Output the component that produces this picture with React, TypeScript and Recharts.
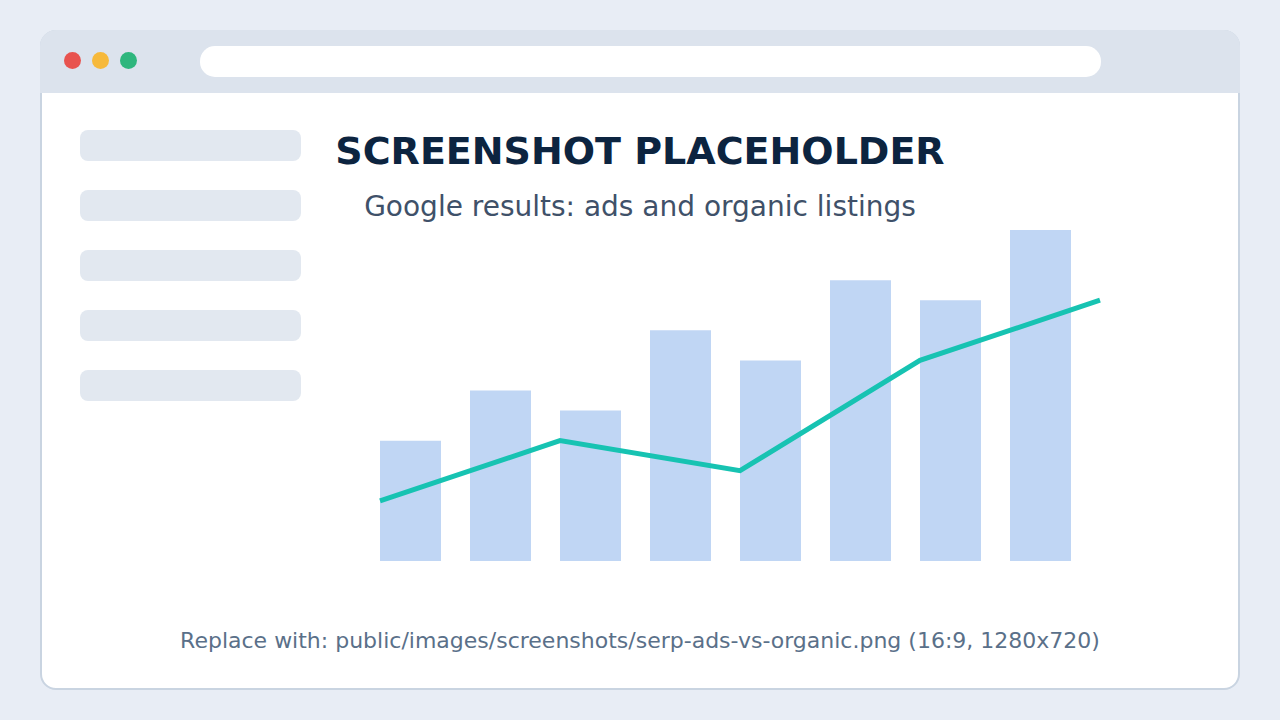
import { ComposedChart, Bar, Line, XAxis, YAxis } from "recharts";

// bar series (ads), one per slot
const slots = ["1", "2", "3", "4", "5", "6", "7", "8"];
const adsValues = [12, 17, 15, 23, 20, 28, 26, 33];

// line series (organic), one point every second slot
const organicSteps = [0, 1, 2, 3, 4];
const organicValues = [6, 12, 9, 20, 26];

const barRows = slots.map((slot, i) => ({ slot, ads: adsValues[i] }));
const lineRows = organicSteps.map((step, i) => ({ step, organic: organicValues[i] }));

const sidebarRows = [0, 1, 2, 3, 4];
const dots = [
  { x: 72, color: "#e8534f" },
  { x: 100, color: "#f6b93b" },
  { x: 128, color: "#2eb67d" },
];

const FONT = "'DejaVu Sans', Verdana, sans-serif";

export default function App() {
  return (
    <div style={{ position: "absolute", left: 0, top: 0, width: 1280, height: 720, background: "#e8edf5", overflow: "hidden", fontFamily: FONT }}>
      {/* browser window */}
      <div
        style={{
          position: "absolute",
          left: 40,
          top: 30,
          width: 1200,
          height: 660,
          boxSizing: "border-box",
          border: "2px solid #c9d4e1",
          borderRadius: 16,
          background: "#ffffff",
        }}
      />
      <div style={{ position: "absolute", left: 40, top: 30, width: 1200, height: 63, background: "#dce3ed", borderRadius: "16px 16px 0 0" }} />
      {dots.map((d) => (
        <div
          key={d.x}
          style={{ position: "absolute", left: d.x - 8.5, top: 51.5, width: 17, height: 17, borderRadius: "50%", background: d.color }}
        />
      ))}
      <div style={{ position: "absolute", left: 200, top: 46, width: 901, height: 31, borderRadius: 15, background: "#ffffff" }} />
      {sidebarRows.map((r) => (
        <div
          key={r}
          style={{ position: "absolute", left: 80, top: 130 + r * 60, width: 221, height: 31, borderRadius: 8, background: "#e2e8f0" }}
        />
      ))}

      <div style={{ position: "absolute", left: 0, top: 0 }}>
        <ComposedChart width={1280} height={720} data={barRows} margin={{ top: 230, right: 180, bottom: 159, left: 365 }}>
          <XAxis xAxisId="bars" dataKey="slot" hide padding={{ left: 0, right: 15 }} />
          <XAxis xAxisId="line" dataKey="step" type="number" domain={[0, 4]} hide padding={{ left: 15, right: 0 }} />
          <YAxis hide domain={[0, 33]} />
          <Bar xAxisId="bars" dataKey="ads" fill="#c0d6f4" barSize={61} isAnimationActive={false} />
          <Line
            xAxisId="line"
            data={lineRows}
            dataKey="organic"
            type="linear"
            stroke="#17c3b2"
            strokeWidth={5}
            dot={false}
            activeDot={false}
            isAnimationActive={false}
          />
        </ComposedChart>
      </div>

      <svg width={1280} height={720} style={{ position: "absolute", left: 0, top: 0, pointerEvents: "none" }}>
        <text x={640} y={164} textAnchor="middle" fontFamily={FONT} fontWeight="bold" fontSize={38} fill="#0c2440">
          SCREENSHOT PLACEHOLDER
        </text>
        <text x={640} y={216} textAnchor="middle" fontFamily={FONT} fontSize={28} fill="#3f5169">
          Google results: ads and organic listings
        </text>
        <text x={640} y={648} textAnchor="middle" fontFamily={FONT} fontSize={22} fill="#5a7089">
          Replace with: public/images/screenshots/serp-ads-vs-organic.png (16:9, 1280x720)
        </text>
      </svg>
    </div>
  );
}
